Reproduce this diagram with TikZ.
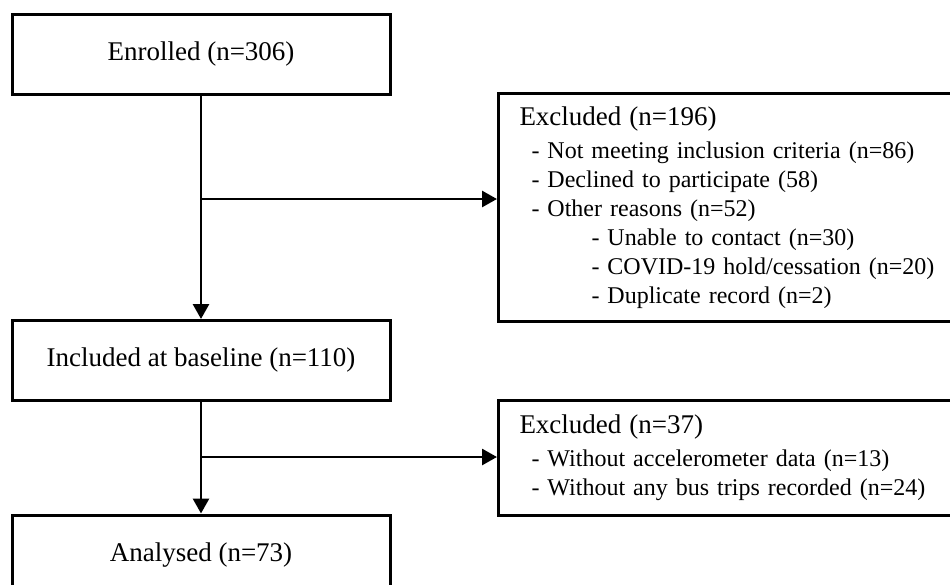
\documentclass[tikz,border=0pt]{standalone}
\usepackage{fontspec}
\setmainfont{Liberation Serif}
\usetikzlibrary{positioning,arrows.meta}

\begin{document}
\begin{tikzpicture}[
    x=0.5pt, y=-0.5pt,
    mainbox/.style={rectangle, draw, line width=1.5pt, minimum width=189pt, minimum height=40pt, font=\fontsize{13.5}{16}\selectfont},
    exbox/.style={rectangle, draw, line width=1.5pt, anchor=north west, align=left, text width=214pt, inner xsep=10.5pt, font=\fontsize{12}{14.5}\selectfont},
    arrow/.style={-{Triangle[length=7.5pt,width=8pt]}, line width=1.4pt}
]
    \useasboundingbox (0,0) rectangle (950,585);
    \clip (0,0) rectangle (950,585);

    \node[mainbox] (enrolled) at (201,54) {Enrolled (n=306)};
    \node[mainbox] (included) at (201,360.5) {Included at baseline (n=110)};
    \node[mainbox] (analysed) at (201,555) {Analysed (n=73)};

    \node[exbox, minimum height=114pt] (excl1) at (497,92) {{\fontsize{13.5}{14.5}\selectfont Excluded (n=196)}\\[2pt]
        \hspace*{6pt}- Not meeting inclusion criteria (n=86)\\
        \hspace*{6pt}- Declined to participate (58)\\
        \hspace*{6pt}- Other reasons (n=52)\\
        \hspace*{36pt}- Unable to contact (n=30)\\
        \hspace*{36pt}- COVID-19 hold/cessation (n=20)\\
        \hspace*{36pt}- Duplicate record (n=2)};
    \node[exbox, minimum height=57.5pt] (excl2) at (497,399) {{\fontsize{13.5}{14.5}\selectfont Excluded (n=37)}\\[2pt]
        \hspace*{6pt}- Without accelerometer data (n=13)\\
        \hspace*{6pt}- Without any bus trips recorded (n=24)};

    \coordinate (split1) at (201,199);
    \coordinate (split2) at (201,457);

    \draw[arrow] (enrolled) -- (included);
    \draw[arrow] (included) -- (analysed);
    \draw[arrow] (split1) -- (split1 -| excl1.west);
    \draw[arrow] (split2) -- (split2 -| excl2.west);
\end{tikzpicture}
\end{document}
